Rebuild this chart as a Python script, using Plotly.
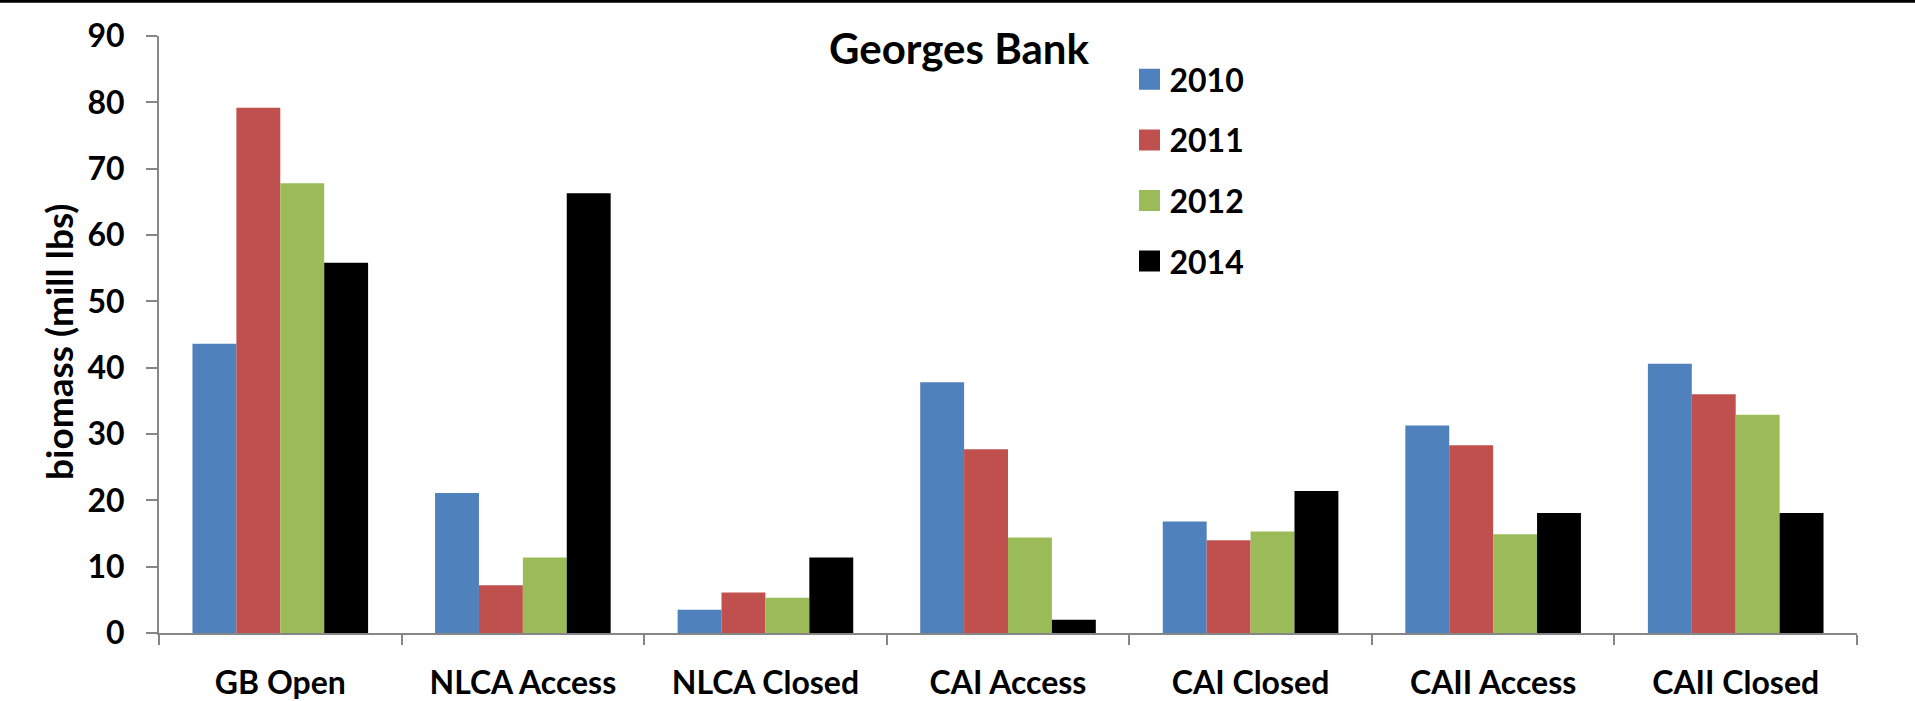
import plotly.graph_objects as go

categories = ["GB Open", "NLCA Access", "NLCA Closed", "CAI Access", "CAI Closed", "CAII Access", "CAII Closed"]
years = ["2010", "2011", "2012", "2014"]
v2010 = [43.6, 21.1, 3.5, 37.8, 16.8, 31.3, 40.6]
v2011 = [79.2, 7.2, 6.1, 27.7, 14.0, 28.3, 36.0]
v2012 = [67.8, 11.4, 5.3, 14.4, 15.3, 14.9, 32.9]
v2014 = [55.8, 66.3, 11.4, 2.0, 21.4, 18.1, 18.1]
series = [v2010, v2011, v2012, v2014]
colors = ["#4F81BD", "#C0504D", "#9BBB59", "#000000"]

FONT = "Lato"
W, H = 1915, 701
ML, MR, MT, MB = 159, 58, 36, 68
pw = W - ML - MR
ph = H - MT - MB

fig = go.Figure()
for yr, vals, col in zip(years, series, colors):
    fig.add_trace(go.Bar(
        x=categories, y=vals, name=yr, legendgroup=yr, showlegend=False,
        marker=dict(color=col, line=dict(width=0)),
    ))
# legend entries (larger square swatches)
for yr, col in zip(years, colors):
    fig.add_trace(go.Scatter(
        x=[None], y=[None], mode="markers", name=yr, legendgroup=yr,
        marker=dict(symbol="square", size=16, color=col, line=dict(color=col, width=5)),
        hoverinfo="skip",
    ))

fig.update_layout(
    width=W, height=H,
    margin=dict(l=ML, r=MR, t=MT, b=MB, autoexpand=False),
    paper_bgcolor="white", plot_bgcolor="white",
    barmode="group", bargap=0.276, bargroupgap=0,
    font=dict(family=FONT, size=32, color="black"),
    title=dict(text="<b>Georges Bank</b>", x=959 / W, xref="container",
               xanchor="center", y=1 - 49 / H, yanchor="middle",
               font=dict(family=FONT, size=42, color="black")),
    legend=dict(
        x=(1129.5 - ML) / pw, xanchor="left",
        y=(H - MB - 52) / ph, yanchor="top",
        font=dict(family=FONT, size=32, color="black", weight="bold"),
        traceorder="grouped", tracegroupgap=16, itemsizing="trace",
        bgcolor="rgba(0,0,0,0)", borderwidth=0,
    ),
    xaxis=dict(
        showline=True, linecolor="#868686", linewidth=2,
        ticks="outside", tickson="boundaries", ticklen=10, tickwidth=2, tickcolor="#868686",
        tickfont=dict(family=FONT, size=32, color="black", weight="bold"),
        ticklabelstandoff=21,
        showgrid=False, zeroline=False, automargin=False,
    ),
    yaxis=dict(
        range=[0, 90], dtick=10, tick0=0,
        showline=True, linecolor="#868686", linewidth=2,
        ticks="outside", ticklen=11, tickwidth=2, tickcolor="#868686",
        tickfont=dict(family=FONT, size=32, color="black", weight="bold"),
        ticklabelstandoff=15,
        showgrid=False, zeroline=False, automargin=False,
    ),
    annotations=[dict(text="<b>biomass (mill lbs)</b>", textangle=-90,
                      xref="paper", yref="paper",
                      x=(58 - ML) / pw, y=(H - MB - 342) / ph,
                      xanchor="center", yanchor="middle", showarrow=False,
                      font=dict(family=FONT, size=37, color="black"))],
    shapes=[dict(type="line", xref="paper", yref="paper",
                 x0=-0.1, x1=1.05, y0=1 + (MT - 1.2) / ph, y1=1 + (MT - 1.2) / ph,
                 line=dict(color="black", width=3))],
)

fig.write_html("out.html", config={"displayModeBar": False},
               post_script="document.body.style.margin='0';document.body.style.padding='0';")
